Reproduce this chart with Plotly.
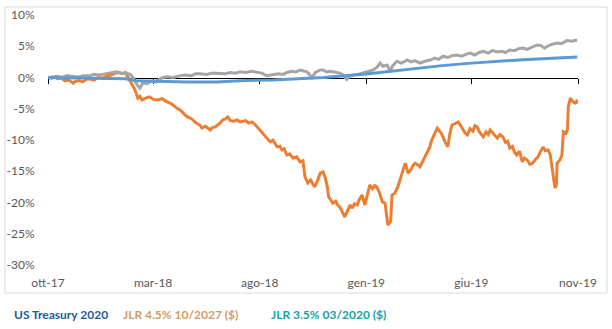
import plotly.graph_objects as go

# ---------------- data (percent change) ----------------
tick_vals = ["2017-10-01", "2018-03-01", "2018-08-01", "2019-01-01", "2019-06-01", "2019-11-01"]
tick_text = ["ott-17", "mar-18", "ago-18", "gen-19", "giu-19", "nov-19"]
y_tick_vals = [10, 5, 0, -5, -10, -15, -20, -25, -30]
y_tick_text = ["10%", "5%", "0%", "-5%", "-10%", "-15%", "-20%", "-25%", "-30%"]

ust_dates = ["2017-10-01", "2017-11-15", "2017-12-25", "2018-01-20", "2018-02-05", "2018-03-01",
             "2018-04-19", "2018-06-01", "2018-07-04", "2018-08-20", "2018-10-08", "2018-11-01",
             "2019-01-01", "2019-03-09", "2019-04-20", "2019-06-01", "2019-08-14", "2019-10-31"]
ust_vals = [0.0, -0.1, -0.1, -0.2, -0.5, -0.6,
            -0.7, -0.7, -0.5, -0.4, -0.1, 0.0,
            0.55, 1.4, 1.9, 2.3, 2.85, 3.3]

jlr27 = [
    ("2017-10-01", 0.0), ("2017-10-06", -0.1), ("2017-10-11", 0.1), ("2017-10-15", -0.2),
    ("2017-10-20", -0.1), ("2017-10-25", -0.5), ("2017-10-31", -0.4), ("2017-11-06", -0.9),
    ("2017-11-10", -0.6), ("2017-11-15", -0.5), ("2017-11-20", -0.7), ("2017-11-25", -0.3),
    ("2017-11-30", -0.2), ("2017-12-06", -0.4), ("2017-12-12", 0.0), ("2017-12-18", -0.1),
    ("2017-12-25", 0.2), ("2018-01-02", 0.5), ("2018-01-08", 0.8), ("2018-01-12", 0.7),
    ("2018-01-16", 0.6), ("2018-01-20", 0.8), ("2018-01-24", 0.0), ("2018-01-30", -1.0),
    ("2018-02-03", -2.0), ("2018-02-07", -3.3), ("2018-02-10", -3.0), ("2018-02-13", -3.6),
    ("2018-02-18", -3.3), ("2018-02-24", -3.1), ("2018-03-01", -3.5), ("2018-03-08", -3.6),
    ("2018-03-14", -3.4), ("2018-03-21", -3.9), ("2018-03-27", -4.2), ("2018-04-04", -4.9),
    ("2018-04-10", -5.3), ("2018-04-15", -5.9), ("2018-04-19", -6.3), ("2018-04-25", -6.6),
    ("2018-05-01", -7.2), ("2018-05-07", -7.6), ("2018-05-10", -8.1), ("2018-05-15", -7.8),
    ("2018-05-22", -8.4), ("2018-05-25", -8.0), ("2018-05-29", -7.9), ("2018-06-04", -7.4),
    ("2018-06-09", -6.8), ("2018-06-13", -6.6), ("2018-06-16", -6.3), ("2018-06-20", -6.9),
    ("2018-06-25", -7.0), ("2018-06-29", -6.8), ("2018-07-04", -7.1), ("2018-07-08", -7.0),
    ("2018-07-12", -6.9), ("2018-07-16", -7.3), ("2018-07-21", -7.1), ("2018-07-26", -7.6),
    ("2018-08-01", -8.4), ("2018-08-05", -8.9), ("2018-08-08", -9.3), ("2018-08-12", -9.7),
    ("2018-08-16", -10.3), ("2018-08-20", -10.0), ("2018-08-26", -11.1), ("2018-08-30", -11.0),
    ("2018-09-02", -11.6), ("2018-09-05", -11.4), ("2018-09-09", -12.4), ("2018-09-13", -12.2),
    ("2018-09-18", -12.9), ("2018-09-23", -12.7), ("2018-09-28", -13.5), ("2018-10-02", -13.3),
    ("2018-10-05", -15.9), ("2018-10-09", -16.9), ("2018-10-13", -16.4), ("2018-10-16", -17.0),
    ("2018-10-19", -17.5), ("2018-10-23", -16.5), ("2018-10-27", -15.3), ("2018-10-31", -15.1),
    ("2018-11-03", -16.0), ("2018-11-06", -17.5), ("2018-11-08", -19.1), ("2018-11-11", -19.6),
    ("2018-11-14", -20.1), ("2018-11-18", -19.8), ("2018-11-21", -20.4), ("2018-11-24", -20.7),
    ("2018-11-28", -21.5), ("2018-12-01", -22.3), ("2018-12-04", -21.6), ("2018-12-09", -20.4),
    ("2018-12-12", -20.9), ("2018-12-15", -20.2), ("2018-12-19", -20.4), ("2018-12-22", -19.5),
    ("2018-12-26", -18.8), ("2018-12-30", -20.4), ("2019-01-03", -18.6), ("2019-01-06", -17.2),
    ("2019-01-10", -17.8), ("2019-01-13", -17.3), ("2019-01-16", -17.5), ("2019-01-20", -18.4),
    ("2019-01-24", -19.9), ("2019-01-28", -20.1), ("2019-02-01", -23.6), ("2019-02-05", -23.0),
    ("2019-02-07", -18.8), ("2019-02-11", -18.5), ("2019-02-15", -17.6), ("2019-02-18", -16.5),
    ("2019-02-21", -15.3), ("2019-02-26", -13.7), ("2019-03-02", -15.3), ("2019-03-06", -14.8),
    ("2019-03-09", -14.1), ("2019-03-12", -13.7), ("2019-03-16", -14.0), ("2019-03-19", -14.3),
    ("2019-03-24", -13.2), ("2019-03-29", -12.1), ("2019-04-02", -11.2), ("2019-04-05", -10.0),
    ("2019-04-09", -9.0), ("2019-04-13", -8.1), ("2019-04-17", -8.7), ("2019-04-20", -9.2),
    ("2019-04-24", -10.3), ("2019-04-28", -11.1), ("2019-05-01", -9.0), ("2019-05-04", -7.6),
    ("2019-05-08", -7.4), ("2019-05-13", -7.1), ("2019-05-16", -7.6), ("2019-05-20", -8.3),
    ("2019-05-23", -8.9), ("2019-05-26", -9.2), ("2019-05-30", -8.2), ("2019-06-03", -8.6),
    ("2019-06-06", -7.7), ("2019-06-09", -7.9), ("2019-06-13", -8.8), ("2019-06-18", -9.5),
    ("2019-06-22", -8.7), ("2019-06-25", -9.1), ("2019-06-28", -8.4), ("2019-07-02", -8.9),
    ("2019-07-05", -9.4), ("2019-07-08", -9.7), ("2019-07-12", -9.1), ("2019-07-16", -9.5),
    ("2019-07-20", -10.4), ("2019-07-23", -10.2), ("2019-07-26", -11.3), ("2019-07-30", -11.0),
    ("2019-08-02", -12.0), ("2019-08-05", -12.4), ("2019-08-09", -11.8), ("2019-08-13", -13.5),
    ("2019-08-16", -12.9), ("2019-08-20", -13.2), ("2019-08-24", -13.9), ("2019-08-28", -13.7),
    ("2019-09-01", -13.1), ("2019-09-04", -12.8), ("2019-09-08", -11.9), ("2019-09-12", -11.1),
    ("2019-09-15", -11.7), ("2019-09-19", -11.6), ("2019-09-22", -12.3), ("2019-09-25", -14.5),
    ("2019-09-27", -16.2), ("2019-09-29", -17.7), ("2019-10-01", -17.2), ("2019-10-02", -13.7),
    ("2019-10-06", -13.2), ("2019-10-09", -12.4), ("2019-10-11", -8.7), ("2019-10-15", -8.9),
    ("2019-10-17", -8.2), ("2019-10-18", -4.7), ("2019-10-21", -3.3), ("2019-10-23", -3.6),
    ("2019-10-25", -3.9), ("2019-10-28", -4.1), ("2019-10-30", -3.8), ("2019-11-01", -4.1),
]
jlr27_dates = [d for d, _ in jlr27]
jlr27_vals = [v for _, v in jlr27]

jlr20 = [
    ("2017-10-01", 0.0), ("2017-10-08", 0.1), ("2017-10-15", 0.2), ("2017-10-21", 0.0),
    ("2017-10-28", 0.3), ("2017-11-05", 0.2), ("2017-11-13", 0.1), ("2017-11-21", 0.3),
    ("2017-11-30", 0.3), ("2017-12-06", 0.5), ("2017-12-12", 0.4), ("2017-12-18", 0.5),
    ("2017-12-25", 0.6), ("2018-01-02", 0.7), ("2018-01-08", 0.9), ("2018-01-15", 0.7),
    ("2018-01-22", 0.7), ("2018-01-27", 0.5), ("2018-01-31", 0.0), ("2018-02-06", -1.2),
    ("2018-02-10", -1.7), ("2018-02-14", -0.9), ("2018-02-20", -1.0), ("2018-02-26", -0.6),
    ("2018-03-04", -0.7), ("2018-03-10", -0.3), ("2018-03-15", 0.0), ("2018-03-22", 0.1),
    ("2018-03-30", 0.0), ("2018-04-09", 0.3), ("2018-04-17", 0.4), ("2018-04-25", 0.3),
    ("2018-05-01", 0.6), ("2018-05-07", 0.6), ("2018-05-17", 0.5), ("2018-05-25", 0.7),
    ("2018-06-05", 0.7), ("2018-06-12", 0.6), ("2018-06-20", 0.8), ("2018-06-27", 0.7),
    ("2018-07-04", 0.9), ("2018-07-12", 0.8), ("2018-07-20", 1.0), ("2018-07-28", 0.8),
    ("2018-08-04", 0.7), ("2018-08-11", 0.3), ("2018-08-20", 0.4), ("2018-08-28", 0.6),
    ("2018-09-04", 0.5), ("2018-09-09", 0.8), ("2018-09-16", 1.0), ("2018-09-22", 0.9),
    ("2018-09-28", 1.2), ("2018-10-03", 1.0), ("2018-10-08", 0.9), ("2018-10-12", 0.4),
    ("2018-10-15", 0.0), ("2018-10-20", 0.8), ("2018-10-27", 1.2), ("2018-10-31", 1.2),
    ("2018-11-05", 0.9), ("2018-11-10", 1.0), ("2018-11-17", 0.8), ("2018-11-24", 0.7),
    ("2018-11-29", 0.4), ("2018-12-04", -0.3), ("2018-12-08", 0.2), ("2018-12-13", 0.4),
    ("2018-12-20", 0.5), ("2018-12-27", 0.7), ("2019-01-04", 0.9), ("2019-01-11", 1.2),
    ("2019-01-16", 1.6), ("2019-01-21", 2.3), ("2019-01-25", 1.8), ("2019-01-31", 2.0),
    ("2019-02-04", 1.0), ("2019-02-08", 1.9), ("2019-02-14", 2.6), ("2019-02-20", 2.3),
    ("2019-02-24", 2.5), ("2019-03-01", 2.8), ("2019-03-06", 2.5), ("2019-03-12", 2.7),
    ("2019-03-19", 2.3), ("2019-03-26", 2.6), ("2019-04-03", 2.8), ("2019-04-09", 3.1),
    ("2019-04-15", 2.9), ("2019-04-21", 3.4), ("2019-04-28", 3.2), ("2019-05-04", 3.5),
    ("2019-05-11", 3.6), ("2019-05-18", 3.4), ("2019-05-24", 3.7), ("2019-05-30", 3.9),
    ("2019-06-06", 3.6), ("2019-06-12", 4.0), ("2019-06-18", 4.2), ("2019-06-25", 3.9),
    ("2019-07-01", 4.3), ("2019-07-08", 4.1), ("2019-07-15", 4.2), ("2019-07-20", 4.0),
    ("2019-07-26", 4.4), ("2019-08-02", 4.3), ("2019-08-08", 4.6), ("2019-08-14", 4.7),
    ("2019-08-20", 4.5), ("2019-08-27", 4.9), ("2019-09-03", 5.2), ("2019-09-09", 5.1),
    ("2019-09-14", 4.7), ("2019-09-18", 5.0), ("2019-09-24", 5.3), ("2019-10-02", 5.5),
    ("2019-10-08", 5.4), ("2019-10-16", 5.9), ("2019-10-23", 5.8), ("2019-10-31", 6.0),
]
jlr20_dates = [d for d, _ in jlr20]
jlr20_vals = [v for _, v in jlr20]

legend_names = ["US Treasury 2020", "JLR 4.5% 10/2027 ($)", "JLR 3.5% 03/2020 ($)"]

# ---------------- figure ----------------
W, H = 612, 329
ML, MR, MT, MB = 48, 34, 15, 64
PW, PH = W - ML - MR, H - MT - MB


def px_x(p):
    return (p - ML) / PW


def px_y(p):
    return (H - MB - p) / PH


fig = go.Figure()
fig.add_trace(go.Scatter(x=ust_dates, y=ust_vals, mode="lines", xaxis="x2",
                         line=dict(color="#5B9BD5", width=3), name=legend_names[0]))
fig.add_trace(go.Scatter(x=jlr27_dates, y=jlr27_vals, mode="lines",
                         line=dict(color="#ED7D31", width=3), name=legend_names[1]))
fig.add_trace(go.Scatter(x=jlr20_dates, y=jlr20_vals, mode="lines",
                         line=dict(color="#A5A5A5", width=3), name=legend_names[2]))

font_axis = dict(family="Lato, Liberation Sans, sans-serif", size=12, color="#595959")
xr = ["2017-10-01", "2019-11-01"]

fig.update_layout(
    width=W, height=H,
    margin=dict(l=ML, r=MR, t=MT, b=MB, autoexpand=False),
    paper_bgcolor="white", plot_bgcolor="white",
    showlegend=False,
    xaxis=dict(type="date", range=xr, tickvals=tick_vals, ticktext=tick_text,
               showgrid=False, zeroline=False, showline=False, automargin=False,
               ticks="outside", ticklen=7, tickcolor="rgba(0,0,0,0)",
               tickfont=font_axis),
    xaxis2=dict(type="date", range=xr, tickvals=tick_vals, overlaying="x",
                anchor="free", position=0.75, side="bottom", automargin=False,
                showgrid=False, zeroline=False, showline=True,
                linecolor="black", linewidth=1,
                ticks="outside", ticklen=5, tickcolor="black", tickwidth=1,
                showticklabels=False, layer="below traces"),
    yaxis=dict(range=[-30, 10], tickvals=y_tick_vals, ticktext=y_tick_text,
               showgrid=False, zeroline=False, showline=False, automargin=False,
               ticks="outside", ticklen=10, tickcolor="rgba(0,0,0,0)",
               tickfont=font_axis),
)

# chart-area border
fig.add_shape(type="rect", xref="paper", yref="paper",
              x0=px_x(5), x1=px_x(607), y0=px_y(293), y1=px_y(7),
              line=dict(color="#D9D9D9", width=1), fillcolor="rgba(0,0,0,0)", layer="below")

# text legend
legend_colors = ["#215A9A", "#D39B5E", "#17A2A0"]
legend_x = [12, 121, 269]
for name, col, lx in zip(legend_names, legend_colors, legend_x):
    fig.add_annotation(text="<b>" + name + "</b>", xref="paper", yref="paper",
                       x=px_x(lx), y=px_y(314), xanchor="left", yanchor="middle",
                       showarrow=False,
                       font=dict(family="Lato, Liberation Sans, sans-serif", size=12, color=col))

fig.write_html("out.html")
